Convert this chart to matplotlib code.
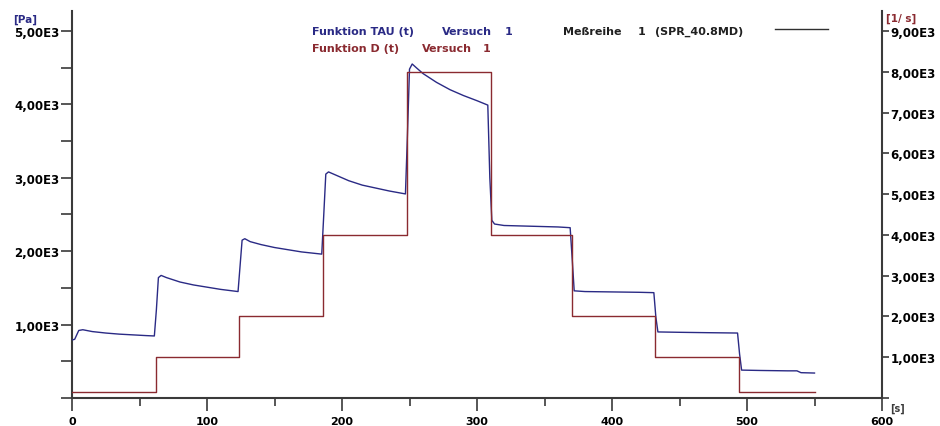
import matplotlib.pyplot as plt
from matplotlib.ticker import FuncFormatter, MultipleLocator

# Funktion TAU (t), shear stress [Pa]
tau_t = [0, 2, 5, 8, 15, 25, 35, 45, 55, 61,
         62.5, 64, 66, 70, 80, 90, 100, 110, 123,
         124.5, 126, 128, 132, 140, 150, 160, 170, 185,
         186.5, 188, 190, 195, 205, 215, 225, 235, 247,
         248.5, 250, 252, 255, 260, 270, 280, 290, 300, 308,
         309.5, 311, 313, 320, 330, 340, 350, 360, 369,
         370.5, 372, 380, 400, 420, 431,
         432.5, 434, 450, 470, 493,
         494.5, 496, 510, 530, 537, 540, 550]
tau_pa = [790, 800, 920, 930, 905, 885, 870, 860, 850, 845,
          1200, 1640, 1670, 1640, 1580, 1540, 1510, 1480, 1450,
          1800, 2150, 2170, 2130, 2090, 2050, 2020, 1990, 1960,
          2500, 3050, 3080, 3040, 2960, 2900, 2860, 2820, 2780,
          3600, 4480, 4550, 4500, 4420, 4300, 4200, 4120, 4050, 3990,
          3000, 2420, 2370, 2350, 2345, 2340, 2335, 2330, 2320,
          1900, 1460, 1450, 1445, 1440, 1435,
          1100, 900, 895, 890, 885,
          600, 380, 375, 370, 370, 345, 340]

# Funktion D (t), shear rate [1/s], step profile
d_t = [0, 62, 124, 186, 248, 310, 370, 432, 494, 550]
d_rate = [150, 1000, 2000, 4000, 8000, 4000, 2000, 1000, 150, 150]

blue = '#2a2a85'
red = '#8a2a30'
axcol = '#3a3a3a'

plt.rcParams['font.family'] = 'DejaVu Sans'
plt.rcParams['font.weight'] = 'bold'

fig = plt.figure(figsize=(9.4, 4.27), dpi=100)
ax = fig.add_axes([72 / 940, 28 / 427, 810 / 940, 387 / 427])
ax2 = ax.twinx()

ax.plot(tau_t, tau_pa, color=blue, lw=1.0, zorder=3)
ax2.step(d_t, d_rate, where='post', color=red, lw=1.0)

ax.set_xlim(0, 600)
ax.set_ylim(0, 5272)
ax2.set_ylim(0, 9490)

fmt = FuncFormatter(lambda v, p: ('%.2fE3' % (v / 1000)).replace('.', ','))

ax.xaxis.set_major_locator(MultipleLocator(100))
ax.xaxis.set_minor_locator(MultipleLocator(50))
ax.yaxis.set_major_locator(MultipleLocator(1000))
ax.yaxis.set_minor_locator(MultipleLocator(500))
ax.yaxis.set_major_formatter(FuncFormatter(lambda v, p: '' if v == 0 else fmt(v, p)))
ax2.yaxis.set_major_locator(MultipleLocator(1000))
ax2.yaxis.set_major_formatter(FuncFormatter(lambda v, p: '' if v == 0 else fmt(v, p)))

for a in (ax, ax2):
    for s in a.spines.values():
        s.set_color(axcol)
        s.set_linewidth(1.5)
    a.spines['top'].set_visible(False)
ax.spines['right'].set_visible(False)
ax2.spines['left'].set_visible(False)
ax2.spines['bottom'].set_visible(False)

ax.tick_params(axis='x', which='major', length=9, width=1.2, color=axcol, labelsize=8, pad=4)
ax.tick_params(axis='x', which='minor', length=6, width=1.2, color=axcol)
ax.tick_params(axis='y', which='both', length=8, width=1.2, color=axcol, labelsize=8.5, pad=1)
ax2.tick_params(axis='y', length=5, width=1.2, color=axcol, labelsize=8.5, pad=1)

fig.text(13 / 940, 1 - 23 / 427, '[Pa]', color=blue, fontsize=7.5, fontweight='bold')
fig.text(886 / 940, 1 - 22 / 427, '[1/ s]', color=red, fontsize=7.5, fontweight='bold')
fig.text(890 / 940, 1 - 412 / 427, '[s]', color=axcol, fontsize=7, fontweight='bold')

# legend pieces, placed where they sit in the picture
fs = 8
y1 = 1 - 35 / 427
y2 = 1 - 52 / 427
fig.text(312 / 940, y1, 'Funktion TAU (t)', color=blue, fontsize=fs, fontweight='bold')
fig.text(442 / 940, y1, 'Versuch', color=blue, fontsize=fs, fontweight='bold')
fig.text(505 / 940, y1, '1', color=blue, fontsize=fs, fontweight='bold')
fig.text(312 / 940, y2, 'Funktion D (t)', color=red, fontsize=fs, fontweight='bold')
fig.text(422 / 940, y2, 'Versuch', color=red, fontsize=fs, fontweight='bold')
fig.text(483 / 940, y2, '1', color=red, fontsize=fs, fontweight='bold')
fig.text(563 / 940, y1, 'Meßreihe', color='#202020', fontsize=fs, fontweight='bold')
fig.text(638 / 940, y1, '1', color='#202020', fontsize=fs, fontweight='bold')
fig.text(655 / 940, y1, '(SPR_40.8MD)', color='#202020', fontsize=fs, fontweight='bold')
fig.add_artist(plt.Line2D([775 / 940, 828 / 940], [1 - 30 / 427, 1 - 30 / 427],
                          color='#303030', lw=1.0, transform=fig.transFigure))

fig.savefig('out.png', dpi=100)
